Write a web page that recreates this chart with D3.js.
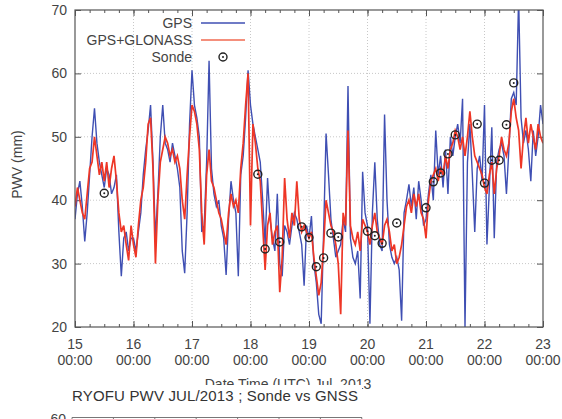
<!DOCTYPE html>
<html>
<head>
<meta charset="utf-8">
<script src="https://cdn.jsdelivr.net/npm/d3@7"></script>
<style>
  body { margin: 0; background: #fff; }
  svg { display: block; font-family: "Liberation Sans", Arial, sans-serif; }
</style>
</head>
<body>
<div id="chart"></div>
<script>
// dias del eje x (00:00 UTC) y valores del eje y
const dayLabels = ["15", "16", "17", "18", "19", "20", "21", "22", "23"];
const yTicks = [20, 30, 40, 50, 60, 70];

// PWV horario (mm) desde 15 Jul 00:00 UTC, una muestra por hora
const gps = [
  37, 41, 43, 39, 33.5, 38, 44, 50, 54.5, 49, 46, 44, 42, 45, 44, 41, 42, 44, 35, 28, 34, 35, 32, 34,
  34, 32, 35, 38, 44, 48, 51, 55, 46, 34, 41, 50, 55, 49, 48, 46, 49, 47, 45, 42, 32, 28.5, 38, 52,
  60.5, 55, 53, 50, 35, 36, 46, 62, 45, 41, 39, 40, 36, 34, 28.2, 37, 43, 40, 38, 28, 44, 47, 53, 60.5,
  55, 52, 50, 48, 46, 40, 33, 43.5, 37, 34, 32, 41, 30, 28, 36, 35, 33, 36, 38, 37, 35, 33, 26.5, 36,
  34, 37.5, 30, 27, 22, 20.5, 35, 50.5, 44, 37, 34, 31, 32, 33, 37, 35, 58, 34, 31, 30, 32, 24.5, 44.5, 38,
  36, 20.5, 38, 46, 37, 33, 32, 53.5, 40, 33, 31, 30, 31, 29, 21, 38, 40, 42.5, 39, 42, 37, 43, 40, 36,
  37, 41, 44, 40, 51, 44, 47, 42, 48, 41, 50, 47, 50, 52, 49, 56, 20, 46, 52, 44, 35, 45, 47, 43,
  55, 33, 42, 51.5, 34, 46, 48, 49, 47, 41, 48, 56, 57, 55, 72, 53, 49, 51, 48, 43, 51, 47, 50, 55,
  52
];
const gpsGlonass = [
  39, 42, 40, 38, 37, 41, 45, 46, 50, 47, 44, 46, 43, 46, 42, 45, 47, 43, 38, 35, 36, 33, 30.5, 36,
  33, 31, 36, 40, 42, 46, 52, 53, 45, 30, 40, 46, 48, 50, 49, 47, 48, 46, 47, 45, 40, 37, 44, 50,
  55, 54, 52, 48, 38, 33, 44, 48, 43, 42, 40, 38, 37, 35, 33, 38, 41, 39, 40, 38, 45, 49, 55, 60,
  36, 52, 49, 45, 43, 36, 29, 36, 38, 33, 35, 36, 25.5, 31, 43.5, 37, 34, 38, 36, 43, 37, 35, 36, 35,
  34, 35, 31, 28, 25, 27, 33, 40, 38, 36, 35, 33, 30, 22, 38, 36, 51, 36, 34, 33, 35, 32, 37, 36,
  35, 33, 36, 38, 35, 34, 33, 36, 37, 35, 32, 33, 30, 31, 33, 36, 39, 40, 38, 41, 39, 41, 38, 37,
  34, 40, 43, 44, 45, 43, 45, 44, 47, 45, 48, 49, 51, 50, 48, 50, 47, 50, 54, 50, 47, 46, 45, 44,
  42, 41, 44, 46, 41, 45, 47, 50, 48, 47, 49, 54, 56, 53, 51, 45, 50, 53, 49, 52, 50, 48, 52, 50,
  49
];

// radiosondas: hora desde 15 Jul 00:00 UTC y PWV (mm)
const sondeHour = [12, 75, 78, 84, 93, 96, 99, 102, 105, 108, 120, 123, 126, 132,
  144, 147, 150, 153, 156, 165, 168, 171, 174, 177, 180];
const sondePwv = [41.1, 44.1, 32.3, 33.4, 35.8, 34.1, 29.5, 30.9, 34.8, 34.2, 35.1, 34.4, 33.2, 36.4,
  38.8, 42.9, 44.3, 47.3, 50.3, 52.0, 42.7, 46.3, 46.3, 51.9, 58.5];

const W = 562, H = 419;
const margin = { top: 10, right: 19, bottom: 92, left: 75 };
const width = W - margin.left - margin.right,
      height = H - margin.top - margin.bottom;

const svg = d3.select("#chart").append("svg")
    .attr("width", W)
    .attr("height", H);

svg.append("defs").append("clipPath").attr("id", "clip")
  .append("rect").attr("width", width).attr("height", height);

const g = svg.append("g").attr("transform", `translate(${margin.left},${margin.top})`);

const x = d3.scaleLinear().domain([0, 192]).range([0, width]);
const y = d3.scaleLinear().domain([20, 70]).range([height, 0]);

const dayHours = dayLabels.map((d, i) => i * 24);
const minorHours = d3.range(0, 193, 6);

// rejilla punteada
g.append("g").selectAll("line").data(dayHours.slice(1, -1)).enter().append("line")
    .attr("x1", d => x(d)).attr("x2", d => x(d))
    .attr("y1", 0).attr("y2", height)
    .attr("stroke", "#c8c8c8").attr("stroke-dasharray", "1,2");
g.append("g").selectAll("line").data(yTicks.slice(1, -1)).enter().append("line")
    .attr("x1", 0).attr("x2", width)
    .attr("y1", d => y(d)).attr("y2", d => y(d))
    .attr("stroke", "#c8c8c8").attr("stroke-dasharray", "1,2");

// ejes (marcas hacia dentro en los cuatro lados)
const axisColor = "#555";
function styleAxis(sel) {
  sel.select(".domain").remove();
  sel.selectAll("line").attr("stroke", axisColor);
  sel.selectAll("text").remove();
}
g.append("g").attr("transform", `translate(0,${height})`)
    .call(d3.axisBottom(x).tickValues(minorHours).tickSize(-3)).call(styleAxis);
g.append("g").attr("transform", `translate(0,${height})`)
    .call(d3.axisBottom(x).tickValues(dayHours).tickSize(-6)).call(styleAxis);
g.append("g")
    .call(d3.axisTop(x).tickValues(minorHours).tickSize(-3)).call(styleAxis);
g.append("g")
    .call(d3.axisTop(x).tickValues(dayHours).tickSize(-6)).call(styleAxis);
g.append("g")
    .call(d3.axisLeft(y).tickValues(yTicks).tickSize(-6)).call(styleAxis);
g.append("g").attr("transform", `translate(${width},0)`)
    .call(d3.axisRight(y).tickValues(yTicks).tickSize(-6)).call(styleAxis);

// etiquetas de los ejes
g.append("g").selectAll("text").data(yTicks).enter().append("text")
    .attr("x", -8).attr("y", d => y(d)).attr("dy", "0.36em")
    .attr("text-anchor", "end")
    .style("font-size", "14px").style("fill", "#444")
    .text(d => d);

const xl = g.append("g").selectAll("text").data(dayLabels).enter().append("text")
    .attr("text-anchor", "middle")
    .style("font-size", "14px").style("fill", "#444");
xl.append("tspan").attr("x", (d, i) => x(dayHours[i])).attr("y", height + 22).text(d => d);
xl.append("tspan").attr("x", (d, i) => x(dayHours[i])).attr("y", height + 38).text("00:00");

// series
const line = d3.line().x((d, i) => x(i)).y(d => y(d));
const lines = g.append("g").attr("clip-path", "url(#clip)");
lines.append("path").datum(gps)
    .attr("d", line).attr("fill", "none")
    .attr("stroke", "#3f4fb3").attr("stroke-width", 1.4);
lines.append("path").datum(gpsGlonass)
    .attr("d", line).attr("fill", "none")
    .attr("stroke", "#ee3626").attr("stroke-width", 1.7);

const sonde = g.append("g").selectAll("g").data(sondeHour).enter().append("g")
    .attr("transform", (d, i) => `translate(${x(d)},${y(sondePwv[i])})`);
sonde.append("circle").attr("r", 4).attr("fill", "none")
    .attr("stroke", "#222").attr("stroke-width", 1.4);
sonde.append("circle").attr("r", 1).attr("fill", "#222");

// marco
g.append("rect").attr("width", width).attr("height", height)
    .attr("fill", "none").attr("stroke", axisColor).attr("stroke-width", 1.2);

// leyenda
const legendItems = ["GPS", "GPS+GLONASS", "Sonde"];
const legend = svg.selectAll(".legend").data(legendItems).enter().append("g")
    .attr("class", "legend")
    .attr("transform", (d, i) => `translate(192,${23 + i * 17})`);
legend.append("text")
    .attr("dy", "0.36em").attr("text-anchor", "end")
    .style("font-size", "14px").style("fill", "#444")
    .text(d => d);
legend.filter((d, i) => i < 2).append("line")
    .attr("x1", 9).attr("x2", 53)
    .attr("stroke", (d, i) => i === 0 ? "#3f4fb3" : "#f06a50")
    .attr("stroke-width", 1.5);
const lm = legend.filter((d, i) => i === 2);
lm.append("circle").attr("cx", 31).attr("r", 4).attr("fill", "none")
    .attr("stroke", "#222").attr("stroke-width", 1.4);
lm.append("circle").attr("cx", 31).attr("r", 1).attr("fill", "#222");

// titulo del eje y
svg.append("text")
    .attr("transform", `translate(22,${margin.top + height / 2 - 4}) rotate(-90)`)
    .attr("text-anchor", "middle")
    .style("font-size", "14px").style("fill", "#444")
    .text("PWV (mm)");

// titulo del eje x (tapado en parte por el panel siguiente)
svg.append("text")
    .attr("x", 288).attr("y", 389)
    .attr("text-anchor", "middle")
    .style("font-size", "14px").style("fill", "#444")
    .text("Date Time (UTC) Jul. 2013");

// panel siguiente
svg.append("rect").attr("x", 0).attr("y", 385).attr("width", 362).attr("height", 34)
    .attr("fill", "#fff");
svg.append("text")
    .attr("x", 72).attr("y", 401)
    .attr("textLength", 286)
    .style("font-size", "15px").style("fill", "#333")
    .text("RYOFU PWV JUL/2013 ; Sonde vs GNSS");
svg.append("text")
    .attr("x", 66).attr("y", 424).attr("text-anchor", "end")
    .style("font-size", "14px").style("fill", "#444")
    .text("60");
svg.append("line").attr("x1", 72).attr("x2", 362).attr("y1", 417.5).attr("y2", 417.5)
    .attr("stroke", "#777").attr("stroke-width", 1.2);
svg.append("g").selectAll("line").data(d3.range(0, 8)).enter().append("line")
    .attr("x1", d => 72 + d * 41.4).attr("x2", d => 72 + d * 41.4)
    .attr("y1", 417.5).attr("y2", 421)
    .attr("stroke", "#777");
</script>
</body>
</html>
